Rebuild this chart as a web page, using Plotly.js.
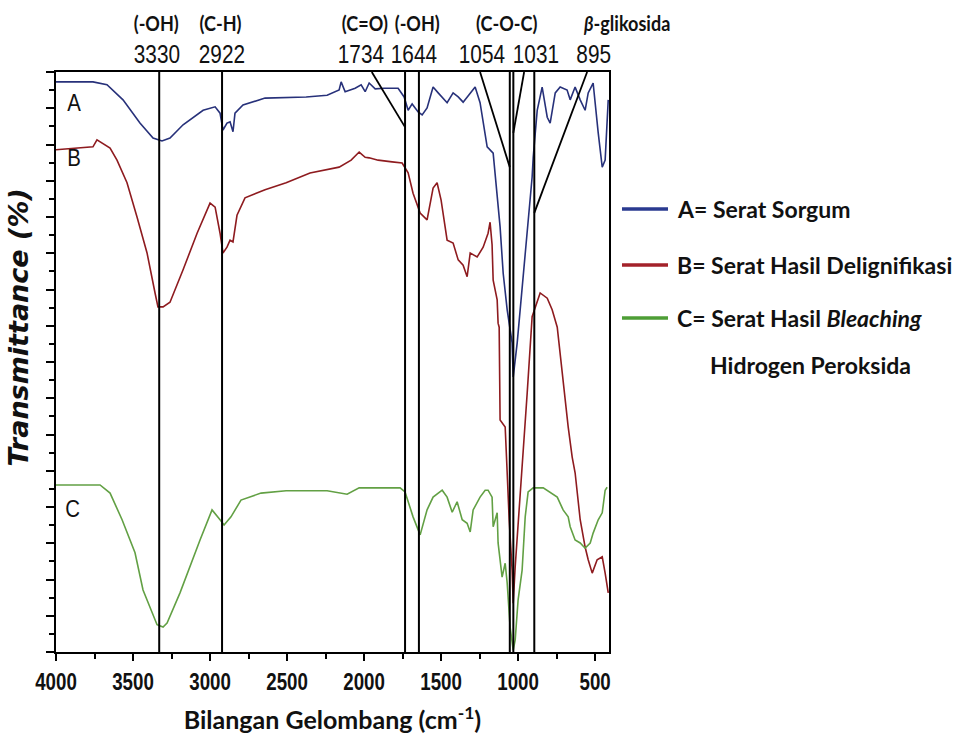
<!DOCTYPE html>
<html>
<head>
<meta charset="utf-8">
<script src="https://cdn.plot.ly/plotly-3.0.1.min.js"></script>
<style>html,body{margin:0;padding:0;background:#fff;}#chart{width:962px;height:744px;}</style>
</head>
<body>
<div id="chart"></div>
<script>
// ---- data (wavenumber cm-1, transmittance in relative units) ----
const wnA = [4000,3760,3669,3565,3455,3370,3312,3260,3175,3045,2967,2935,2916,2890,2870,2851,2838,2786,2643,2376,2240,2162,2149,2123,2058,2019,1993,1967,1928,1870,1779,1740,1714,1688,1649,1623,1591,1552,1519,1493,1461,1422,1389,1357,1311,1279,1247,1201,1162,1136,1117,1097,1071,1039,1032,1006,974,954,935,909,902,876,844,811,792,759,727,682,662,630,597,565,545,513,480,454,435,415];
const tA  = [98.3,98.3,97.8,95.2,91.2,88.6,88.1,88.6,90.9,93.4,94.0,92.9,90.0,91.2,91.4,89.7,92.9,94.3,95.5,95.7,96.0,96.9,98.3,96.6,97.2,97.8,96.6,98.1,97.1,97.2,97.2,95.7,93.4,94.5,93.1,92.6,93.8,97.4,96.4,95.7,94.7,96.4,95.7,94.8,96.4,97.4,94.7,87.1,86.0,79.1,73.3,65.3,59.0,53.3,47.4,53.3,62.9,67.6,73.3,81.9,85.3,93.4,97.4,92.2,91.2,96.4,97.4,96.9,95.2,97.4,95.2,93.4,96.4,98.1,89.5,83.6,84.8,95.2];

const wnB = [4000,3760,3734,3701,3649,3604,3539,3474,3409,3357,3338,3305,3260,3175,3084,3000,2967,2935,2916,2890,2870,2851,2825,2773,2643,2506,2351,2162,2084,2032,1993,1967,1909,1818,1753,1714,1682,1636,1591,1552,1526,1500,1461,1422,1389,1357,1331,1311,1266,1227,1195,1182,1169,1162,1149,1136,1130,1123,1117,1084,1071,1058,1039,1032,1019,1000,980,941,909,889,857,811,779,746,708,675,649,630,597,565,545,519,487,454,435,415];
const tB  = [86.6,87.1,88.3,87.8,86.9,84.8,80.9,75.0,68.8,61.9,59.5,59.5,60.3,65.9,72.2,77.4,76.7,72.2,68.8,69.8,71.0,70.7,75.3,78.3,79.7,80.9,82.6,83.6,84.8,86.2,85.3,85.2,84.8,84.5,84.3,82.6,79.1,75.7,74.5,80.0,80.9,77.9,71.0,70.5,67.6,66.7,64.7,68.8,68.1,69.8,72.2,74.1,70.2,64.1,62.4,60.7,56.7,56.0,40.0,38.8,30.9,22.8,14.1,8.4,14.7,21.6,29.7,44.7,57.8,59.5,61.9,61.0,59.0,56.0,46.4,38.8,33.6,30.9,22.8,18.1,15.9,13.6,15.9,16.4,13.6,10.2];

const wnC = [4000,3714,3649,3571,3487,3435,3344,3305,3279,3195,3065,2987,2935,2909,2864,2799,2669,2506,2240,2110,2032,1844,1766,1734,1682,1636,1591,1552,1493,1461,1428,1396,1363,1331,1311,1292,1247,1214,1195,1169,1162,1136,1130,1104,1084,1071,1052,1032,1019,1000,974,954,935,902,837,746,708,675,662,630,597,565,532,513,480,454,435,422];
const tC  = [28.8,28.8,27.4,22.8,17.1,10.7,4.7,4.3,5.0,10.2,19.3,24.5,22.8,21.9,23.3,26.2,27.4,27.8,27.8,27.2,28.3,28.3,28.3,27.6,23.3,20.2,24.5,26.7,27.9,26.7,24.1,25.9,22.8,22.2,20.7,24.5,26.7,27.9,27.9,26.7,21.6,24.0,18.8,12.9,15.3,11.9,4.3,0.3,2.1,9.0,14.1,23.3,27.6,28.3,28.3,26.7,24.5,23.3,21.6,19.3,18.8,17.9,18.8,20.5,22.8,24.0,27.9,28.4];

const seriesNames = ['A= Serat Sorgum', 'B= Serat Hasil Delignifikasi', 'C= Serat Hasil <i>Bleaching</i>'];
const seriesTags = ['A', 'B', 'C'];
const peakWn = [3330, 2922, 1734, 1644, 1054, 1031, 895];
const peakLabels = ['3330', '2922', '1734', '1644', '1054', '1031', '895'];
const groupLabels = ['(-OH)', '(C-H)', '(C=O)', '(-OH)', '(C-O-C)'];
const glikosidaLabel = '<i>β</i>-glikosida';
const xTickVals = [4000, 3500, 3000, 2500, 2000, 1500, 1000, 500];

// ---- styling ----
const colors = ['#27317a', '#8e1b1f', '#62a044'];
const legendColors = ['#2a3a90', '#a3222a', '#4e9e36'];
const labFont = 'Lato, "Open Sans", sans-serif';
const numFont = '"Liberation Sans", Arial, sans-serif';

const traces = [[wnA, tA], [wnB, tB], [wnC, tC]].map((d, i) => ({
  x: d[0], y: d[1], type: 'scatter', mode: 'lines', name: seriesNames[i],
  line: {color: colors[i], width: 1.6}, showlegend: false, hoverinfo: 'x+y'
}));

const shapes = [];
peakWn.forEach(p => shapes.push({type: 'line', xref: 'x', yref: 'y', x0: p, x1: p, y0: 0, y1: 100,
  line: {color: '#000', width: 2}}));
// diagonal leader lines from labels to peaks
[[1950, 1734, 90.5], [1247, 1054, 83.6], [961, 1031, 89.5], [552, 895, 75.7]].forEach(d =>
  shapes.push({type: 'line', xref: 'x', yref: 'y', x0: d[0], y0: 100, x1: d[1], y1: d[2],
    line: {color: '#000', width: 1.8}}));

// legend (drawn manually)
const legY = [0.7638, 0.6672, 0.5759];
legY.forEach((y, i) => shapes.push({type: 'line', xref: 'paper', yref: 'paper', x0: 1.0235, x1: 1.1067, y0: y, y1: y,
  line: {color: legendColors[i], width: 3.5}}));

const annotations = [];
// group labels (row 1) and wavenumber labels (row 2)
const groupX = [0.1826, 0.2966, 0.5588, 0.6546, 0.8156];
groupLabels.forEach((t, i) => annotations.push({text: t, xref: 'paper', yref: 'paper', x: groupX[i], y: 1.085,
  showarrow: false, font: {family: labFont, size: 21, color: '#111', weight: 700}, xanchor: 'center', yanchor: 'middle'}));
annotations.push({text: glikosidaLabel, xref: 'paper', yref: 'paper', x: 0.937, y: 1.085,
  showarrow: false, font: {family: labFont, size: 21, color: '#111', weight: 700}, xanchor: 'left', yanchor: 'middle'});
const numX = [0.1826, 0.3002, 0.5515, 0.6474, 0.7703, 0.868, 0.9711];
peakLabels.forEach((t, i) => annotations.push({text: t, xref: 'paper', yref: 'paper', x: numX[i], y: 1.031,
  showarrow: false, font: {family: numFont, size: 26, color: '#111'}, xanchor: 'center', yanchor: 'middle'}));
// curve tags
[[0.0145, 0.9466], [0.0145, 0.853], [0.0108, 0.248]].forEach((p, i) => annotations.push({text: seriesTags[i],
  xref: 'paper', yref: 'paper', x: p[0], y: p[1], showarrow: false, xanchor: 'left', yanchor: 'middle',
  font: {family: numFont, size: 24, color: '#111'}}));
// legend texts
seriesNames.forEach((t, i) => annotations.push({text: t, xref: 'paper', yref: 'paper', x: 1.1193, y: legY[i],
  showarrow: false, xanchor: 'left', yanchor: 'middle', font: {family: labFont, size: 23, color: '#111', weight: 700}}));
annotations.push({text: 'Hidrogen Peroksida', xref: 'paper', yref: 'paper', x: 1.179, y: 0.4948,
  showarrow: false, xanchor: 'left', yanchor: 'middle', font: {family: labFont, size: 23, color: '#111', weight: 700}});
// y-axis title (rotated)
annotations.push({text: '<i>Transmittance (%)</i>', xref: 'paper', yref: 'paper', x: -0.068, y: 0.56,
  textangle: -90, showarrow: false, xanchor: 'center', yanchor: 'middle',
  font: {family: '"DejaVu Sans", sans-serif', size: 27, color: '#111', weight: 700}});

const layout = {
  width: 962, height: 744,
  margin: {l: 56, r: 353, t: 72, b: 92},
  paper_bgcolor: '#fff', plot_bgcolor: '#fff',
  showlegend: false,
  xaxis: {
    range: [4000, 410], showgrid: false, zeroline: false,
    showline: true, mirror: true, linecolor: '#000', linewidth: 2,
    tickmode: 'array', tickvals: xTickVals, ticks: 'outside', ticklen: 7, tickwidth: 2, tickcolor: '#000',
    minor: {dtick: 250, tick0: 0, ticks: 'outside', ticklen: 5, tickwidth: 2, tickcolor: '#000'},
    tickfont: {family: numFont, size: 24, color: '#111', weight: 700},
    title: {text: 'Bilangan Gelombang (cm<sup>-1</sup>)', font: {family: labFont, size: 25, color: '#111', weight: 700}, standoff: 18}
  },
  yaxis: {
    range: [0, 100], showgrid: false, zeroline: false,
    showline: true, mirror: true, linecolor: '#000', linewidth: 2,
    tick0: 0, dtick: 6.25, ticks: 'outside', ticklen: 8, tickwidth: 2, tickcolor: '#000',
    minor: {dtick: 3.125, tick0: 0, ticks: 'outside', ticklen: 5, tickwidth: 2, tickcolor: '#000'},
    showticklabels: false
  },
  shapes: shapes,
  annotations: annotations
};

// narrow the text horizontally about its own centre (the reference uses condensed lettering)
function condense(el, f) {
  const b = el.getBBox();
  const cx = b.x + b.width / 2;
  const prev = el.getAttribute('transform') || '';
  el.setAttribute('transform', (prev + ' translate(' + cx + ',0) scale(' + f + ',1) translate(' + (-cx) + ',0)').trim());
}

Plotly.newPlot('chart', traces, layout, {displayModeBar: false, staticPlot: true}).then(gd => {
  gd.querySelectorAll('.xtick text').forEach(t => condense(t, 0.78));
  for (let i = 0; i <= 5; i++) gd.querySelectorAll('g.annotation[data-index="' + i + '"] text').forEach(t => condense(t, 0.86));
  for (let i = 6; i <= 12; i++) gd.querySelectorAll('g.annotation[data-index="' + i + '"] text').forEach(t => condense(t, 0.8));
  for (let i = 13; i <= 15; i++) gd.querySelectorAll('g.annotation[data-index="' + i + '"] text').forEach(t => condense(t, 0.85));
});
</script>
</body>
</html>
